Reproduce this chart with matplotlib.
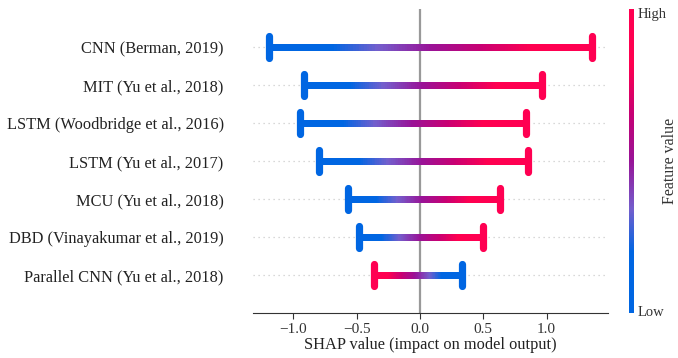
import numpy as np
import matplotlib
matplotlib.use("Agg")
import matplotlib.pyplot as plt
from matplotlib.collections import LineCollection
from matplotlib.colors import LinearSegmentedColormap

plt.rcParams['font.family'] = ['Liberation Serif', 'DejaVu Serif']
plt.rcParams['axes.unicode_minus'] = True

# ---- data ----
models = [
    "CNN (Berman, 2019)",
    "MIT (Yu et al., 2018)",
    "LSTM (Woodbridge et al., 2016)",
    "LSTM (Yu et al., 2017)",
    "MCU (Yu et al., 2018)",
    "DBD (Vinayakumar et al., 2019)",
    "Parallel CNN (Yu et al., 2018)",
]
left_vals = [-1.19, -0.92, -0.95, -0.80, -0.57, -0.48, -0.36]
right_vals = [1.36, 0.96, 0.84, 0.85, 0.63, 0.50, 0.33]
# feature level at the left end of each bar (0 = low, 1 = high)
left_level = [0, 0, 0, 0, 0, 0, 1]
xticks = [-1.0, -0.5, 0.0, 0.5, 1.0]

# ---- colormap (SHAP-like red/blue) ----
cmap = LinearSegmentedColormap.from_list("shap_rb", [
    (0.00, (0/255, 102/255, 226/255)),
    (0.20, (0/255, 102/255, 226/255)),
    (0.34, (115/255, 95/255, 205/255)),
    (0.50, (152/255, 20/255, 152/255)),
    (0.66, (200/255, 0/255, 115/255)),
    (0.82, (255/255, 0/255, 80/255)),
    (1.00, (255/255, 0/255, 82/255)),
])

fig = plt.figure(figsize=(6.78, 3.58), dpi=100)
ax = fig.add_axes([0.373, 0.126, 0.524, 0.849])

n = len(models)
ypos = np.arange(n)[::-1]

for y in ypos:
    ax.axhline(y, color="#cccccc", lw=0.9, ls=(0, (1, 3)), zorder=0)

ax.axvline(0, color="#999999", lw=1.6, zorder=1)

for i, (name, lo, hi, lev) in enumerate(zip(models, left_vals, right_vals, left_level)):
    y = ypos[i]
    m = 120
    xs = np.linspace(lo, hi, m)
    t = np.linspace(0, 1, m)
    if lev == 1:
        t = 1 - t
    pts = np.column_stack([xs, np.full_like(xs, y)])
    segs = np.stack([pts[:-1], pts[1:]], axis=1)
    lc = LineCollection(segs, colors=cmap(t[:-1]), linewidths=3.7,
                        capstyle="projecting", antialiaseds=False, zorder=3)
    ax.add_collection(lc)
    # end caps
    ax.plot([lo, lo], [y - 0.30, y + 0.30], color=cmap(t[0]), lw=5.2,
            solid_capstyle="round", zorder=4)
    ax.plot([hi, hi], [y - 0.30, y + 0.30], color=cmap(t[-1]), lw=5.2,
            solid_capstyle="round", zorder=4)

ax.set_xlim(-1.32, 1.486)
ax.set_ylim(-1, n)
ax.set_yticks(ypos)
ax.set_yticklabels(models, fontsize=11.8, color="#222222")
ax.set_xticks(xticks)
ax.set_xticklabels([f"{v:.1f}".replace("-", "\u2212") for v in xticks], fontsize=11)
ax.tick_params(axis="y", length=0, pad=21)
ax.tick_params(axis="x", length=4, width=0.8, color="#333333", labelcolor="#333333", pad=3)
for s in ["top", "right", "left"]:
    ax.spines[s].set_visible(False)
ax.spines["bottom"].set_color("#333333")
ax.set_xlabel("SHAP value (impact on model output)", fontsize=11.8, labelpad=1, color="#222222")

# colorbar
cax = fig.add_axes([0.928, 0.126, 0.006, 0.849])
grad = np.linspace(0, 1, 256).reshape(-1, 1)
cax.imshow(grad, aspect="auto", cmap=cmap, origin="lower", extent=[0, 1, 0, 1])
cax.set_xticks([])
cax.set_yticks([])
for s in cax.spines.values():
    s.set_visible(False)
fig.text(0.940, 0.978, "High", fontsize=10.5, va="top", ha="left", color="#333333")
fig.text(0.940, 0.126, "Low", fontsize=10.5, va="center", ha="left", color="#333333")
fig.text(0.988, 0.55, "Feature value", fontsize=11.5, rotation=90, va="center",
         ha="center", color="#333333")

fig.savefig("out.png", dpi=100)
